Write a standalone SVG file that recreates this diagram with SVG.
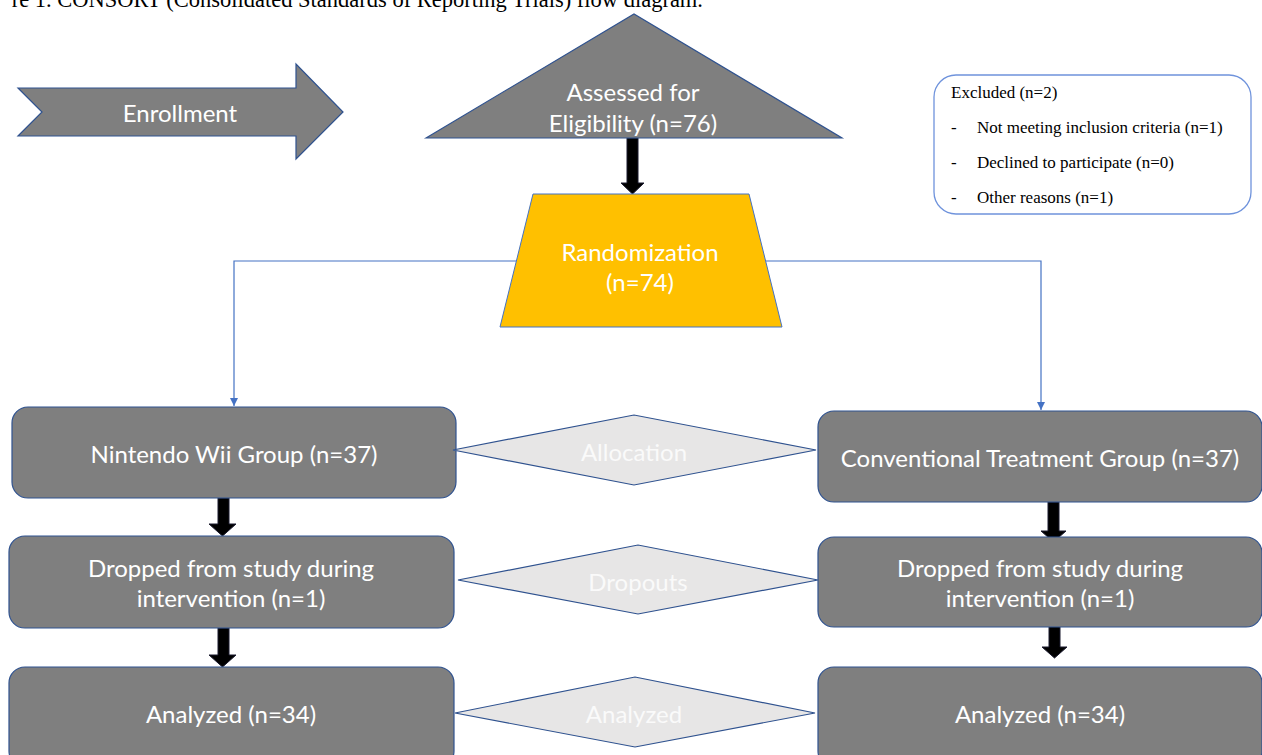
<svg xmlns="http://www.w3.org/2000/svg" width="1262" height="755" viewBox="0 0 1262 755">
<style>
.box{fill:#7f7f7f;stroke:#2f528f;stroke-width:1.2}
.dia{fill:#e7e6e6;stroke:#2f528f;stroke-width:1.2}
.blk{fill:#000;stroke:#1a1a2e;stroke-width:1}
.t{font-family:Lato,"Open Sans",sans-serif;font-size:24px;fill:#fff;text-anchor:middle;dominant-baseline:central}
.td{font-family:Lato,"Open Sans",sans-serif;font-size:24px;fill:#fafafa;text-anchor:middle;dominant-baseline:central}
.ser{font-family:"Liberation Serif","Times New Roman",serif;font-size:17px;fill:#000}
.conn{fill:none;stroke:#4472c4;stroke-width:1.2}
</style>
<defs>
<marker id="ah" viewBox="0 0 10 10" refX="10" refY="5" markerWidth="8" markerHeight="8" markerUnits="userSpaceOnUse" orient="auto">
<path d="M0,0 L10,5 L0,10 z" fill="#4472c4"/>
</marker>
</defs>
<rect width="1262" height="755" fill="#fff"/>
<text class="ser" x="703" y="7" text-anchor="end" style="font-size:22.5px">re 1. CONSORT (Consolidated Standards of Reporting Trials) flow diagram.</text>

<g id="connectors">
<path class="conn" d="M516,261 H234 V406" marker-end="url(#ah)"/>
<path class="conn" d="M766,261 H1041 V410" marker-end="url(#ah)"/>
<polygon class="blk" points="627,138 638,138 638,183 644,183 632.5,194 621,183 627,183"/>
<polygon class="blk" points="218,498 229,498 229,524 236,524 222.5,536 209,524 218,524"/>
<polygon class="blk" points="218,628 229,628 229,655 236,655 222.5,667 209,655 218,655"/>
<polygon class="blk" points="1048,502 1059,502 1059,531 1066,531 1053.5,542 1041,531 1048,531"/>
<polygon class="blk" points="1049,621 1060,621 1060,647 1067,647 1054.5,658 1042,647 1049,647"/>
</g>

<g id="enrollment">
<polygon class="box" points="18,88 296,88 296,64 343,112 296,159 296,136 18,136 42,112"/>
<text class="t" x="180" y="112">Enrollment</text>
</g>

<g id="assessed">
<polygon class="box" points="426,138 634,14 842,138"/>
<text class="t" x="633" y="91">Assessed for</text>
<text class="t" x="633" y="122">Eligibility (n=76)</text>
</g>

<g id="randomization">
<polygon points="533,194 749,194 782,327 500,327" fill="#ffc000" stroke="#4472c4" stroke-width="1"/>
<text class="t" x="640" y="251">Randomization</text>
<text class="t" x="640" y="281">(n=74)</text>
</g>

<g id="excluded">
<rect x="934" y="75" width="317" height="139" rx="22" fill="#fff" stroke="#6f93dc" stroke-width="1.3"/>
<text class="ser" x="951" y="98">Excluded (n=2)</text>
<text class="ser" x="951" y="133">-</text>
<text class="ser" x="977" y="133">Not meeting inclusion criteria (n=1)</text>
<text class="ser" x="951" y="168">-</text>
<text class="ser" x="977" y="168">Declined to participate (n=0)</text>
<text class="ser" x="951" y="203">-</text>
<text class="ser" x="977" y="203">Other reasons (n=1)</text>
</g>

<g id="wii-group">
<rect class="box" x="12" y="407" width="444" height="91" rx="16"/>
<text class="t" x="234" y="453">Nintendo Wii Group (n=37)</text>
</g>
<g id="wii-dropped">
<rect class="box" x="9" y="536" width="445" height="92" rx="16"/>
<text class="t" x="231" y="567">Dropped from study during</text>
<text class="t" x="231" y="597">intervention (n=1)</text>
</g>
<g id="wii-analyzed">
<rect class="box" x="9" y="667" width="445" height="100" rx="16"/>
<text class="t" x="231" y="713">Analyzed (n=34)</text>
</g>

<g id="conv-group">
<rect class="box" x="818" y="411" width="444" height="91" rx="16"/>
<text class="t" x="1040" y="457">Conventional Treatment Group (n=37)</text>
</g>
<g id="conv-dropped">
<rect class="box" x="818" y="537" width="444" height="90" rx="16"/>
<text class="t" x="1040" y="567">Dropped from study during</text>
<text class="t" x="1040" y="597">intervention (n=1)</text>
</g>
<g id="conv-analyzed">
<rect class="box" x="818" y="667" width="444" height="100" rx="16"/>
<text class="t" x="1040" y="713">Analyzed (n=34)</text>
</g>

<g id="allocation">
<polygon class="dia" points="453,450 634,415 816,450 634,485"/>
<text class="td" x="634" y="451">Allocation</text>
</g>
<g id="dropouts">
<polygon class="dia" points="458,580 638,545 818,580 638,614"/>
<text class="td" x="638" y="581">Dropouts</text>
</g>
<g id="analyzed-label">
<polygon class="dia" points="455,713 635,677 815,713 635,747"/>
<text class="td" x="634" y="713">Analyzed</text>
</g>
</svg>
